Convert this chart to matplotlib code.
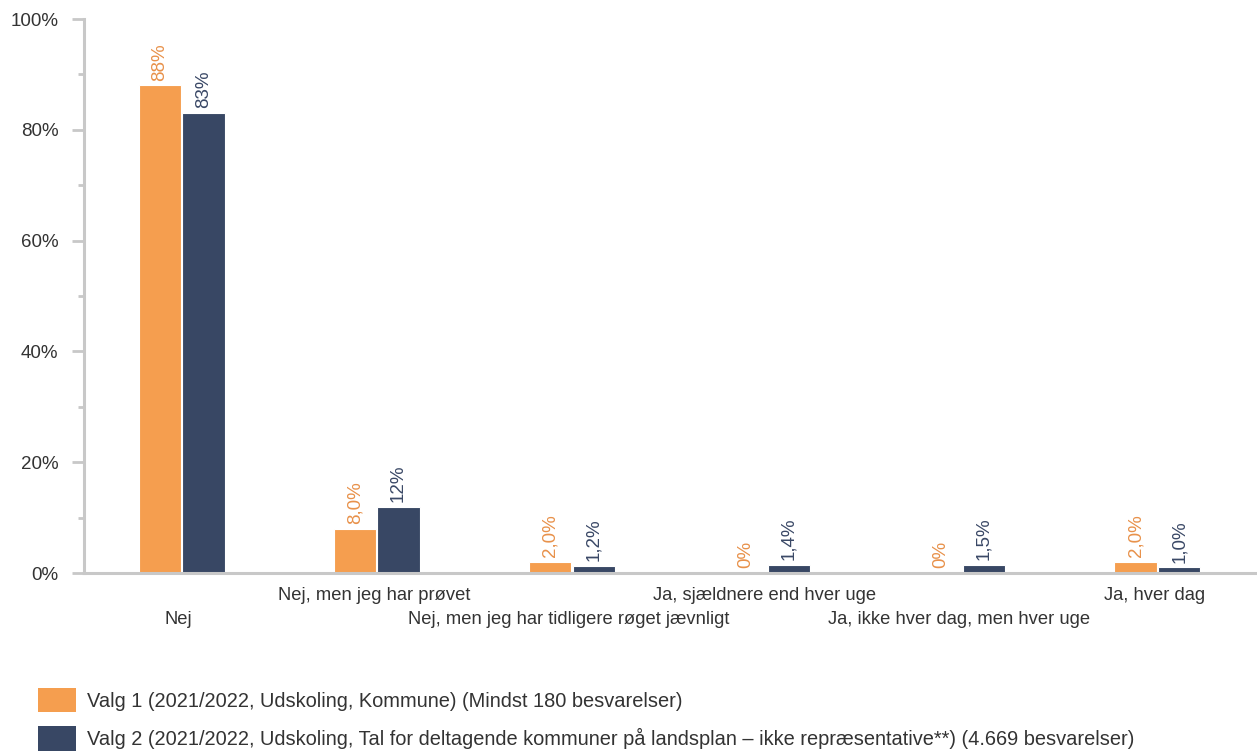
import matplotlib
matplotlib.use("Agg")
import matplotlib.pyplot as plt
import numpy as np
from matplotlib.patches import Patch

plt.rcParams['font.family'] = ['Liberation Sans', 'DejaVu Sans']

categories = [
    "Nej",
    "Nej, men jeg har prøvet",
    "Nej, men jeg har tidligere røget jævnligt",
    "Ja, sjældnere end hver uge",
    "Ja, ikke hver dag, men hver uge",
    "Ja, hver dag",
]
valg1 = [88, 8.0, 2.0, 0, 0, 2.0]
valg2 = [83, 12, 1.2, 1.4, 1.5, 1.0]
valg1_labels = ["88%", "8,0%", "2,0%", "0%", "0%", "2,0%"]
valg2_labels = ["83%", "12%", "1,2%", "1,4%", "1,5%", "1,0%"]
series_names = [
    "Valg 1 (2021/2022, Udskoling, Kommune) (Mindst 180 besvarelser)",
    "Valg 2 (2021/2022, Udskoling, Tal for deltagende kommuner på landsplan – ikke repræsentative**) (4.669 besvarelser)",
]
yticks = [0, 20, 40, 60, 80, 100]
ytick_labels = ["0%", "20%", "40%", "60%", "80%", "100%"]

orange = "#F59E4F"
navy = "#384764"
orange_txt = "#E8914A"
navy_txt = "#3A4866"
axis_gray = "#C8C8C8"
text_col = "#333333"

fig = plt.figure(figsize=(12.57, 7.53), dpi=100)
ax = fig.add_axes([84 / 1257, 1 - 573 / 753, (1255 - 84) / 1257, (573 - 19) / 753])

x = np.arange(len(categories))
w = 0.217
b1 = ax.bar(x - w / 2 - 0.003, valg1, w, color=orange, edgecolor="white", linewidth=0.8)
b2 = ax.bar(x + w / 2 + 0.003, valg2, w, color=navy, edgecolor="white", linewidth=0.8)

for bars, labels, col in ((b1, valg1_labels, orange_txt), (b2, valg2_labels, navy_txt)):
    for rect, lab in zip(bars, labels):
        ax.annotate(lab, (rect.get_x() + rect.get_width() / 2, rect.get_height()),
                    xytext=(0, 3.5), textcoords="offset points",
                    rotation=90, ha="center", va="bottom", fontsize=13.5, color=col)

ax.set_xlim(-0.5, len(categories) - 0.5)
ax.set_ylim(0, 100)
ax.set_yticks(yticks)
ax.set_yticklabels(ytick_labels)
ax.set_yticks([10, 30, 50, 70, 90], minor=True)
ax.tick_params(axis="y", which="major", length=8.5, width=2, color=axis_gray,
               labelsize=13.5, labelcolor=text_col, pad=10)
ax.tick_params(axis="y", which="minor", length=4.3, width=2, color=axis_gray)

# category labels on two staggered rows
ax.set_xticks(x)
ax.set_xticklabels([])
ax.tick_params(axis="x", length=0)
for i, c in enumerate(categories):
    dy = -46 if i % 2 == 0 else -22
    ax.annotate(c, (i, 0), xycoords=("data", "axes fraction"),
                xytext=(-2, dy * 0.72), textcoords="offset points",
                ha="center", va="center", fontsize=13.2, color=text_col)

for s in ("top", "right"):
    ax.spines[s].set_visible(False)
for s in ("left", "bottom"):
    ax.spines[s].set_color(axis_gray)
    ax.spines[s].set_linewidth(2.2)

handles = [Patch(facecolor=orange, edgecolor="none"), Patch(facecolor=navy, edgecolor="none")]
fig.legend(handles, series_names, loc="upper left",
           bbox_to_anchor=(38 / 1257, 1 - 688 / 753), frameon=False,
           fontsize=14.4, handlelength=1.9, handleheight=1.5, handletextpad=0.55,
           labelspacing=0.7, borderpad=0, borderaxespad=0, labelcolor=text_col)

fig.savefig("out.png", dpi=100)
